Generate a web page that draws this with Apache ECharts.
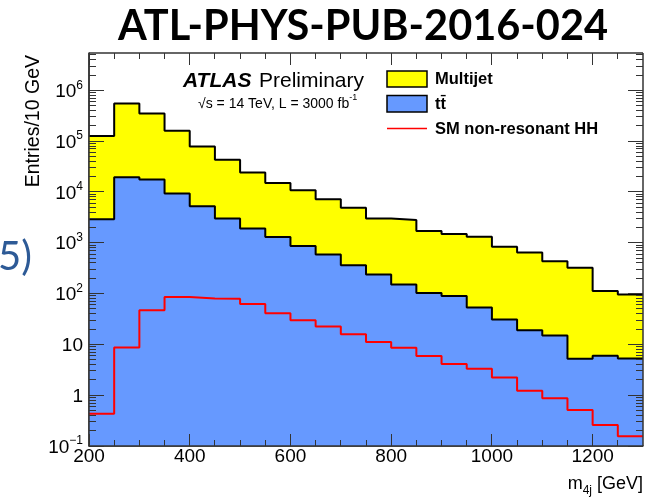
<!DOCTYPE html>
<html><head><meta charset="utf-8">
<script src="https://cdn.jsdelivr.net/npm/echarts@6/dist/echarts.min.js"></script>
<style>html,body{margin:0;padding:0;background:#fff}#c{width:646px;height:499px}</style>
</head><body><div id="c"></div>
<script>
// ---- data ----
const binEdges = [200,250,300,350,400,450,500,550,600,650,700,750,800,850,900,950,1000,1050,1100,1150,1200,1250,1300];
const multijet = [123000,530000,332000,151000,72800,40000,22100,13700,9940,6610,4540,2760,2650,1590,1390,1260,799,625,419,316,106,91];
const ttbar = [2900,19500,17500,9300,5200,3000,1900,1300,860,590,360,238,151,103,90,53,31,19,15,5.2,6.0,5.3];
const hhSignal = [0.43,8.7,47,86,80,79,62,41,30,22.6,15.9,11.1,8.6,5.9,4.1,3.3,2.24,1.22,0.87,0.51,0.26,0.155];
const xMajorTicks = [200,400,600,800,1000,1200];
const xMinorTicks = [250,300,350,450,500,550,650,700,750,850,900,950,1050,1100,1150,1250];
const yMajorTicks = [0.1,1,10,100,1000,10000,100000,1000000];
const Y_MIN = 0.1, Y_MAX = 5.42e6, X_MIN = 200, X_MAX = 1300;
const yMinorTicks = [];
for (let d = -1; d <= 6; d++) for (let k = 2; k <= 9; k++) { const v = k * Math.pow(10, d); if (v < Y_MAX) yMinorTicks.push(+v.toPrecision(3)); }

function histPoints(vals) {
  const pts = vals.map((v, i) => [binEdges[i], v]);
  pts.push([binEdges[binEdges.length - 1], vals[vals.length - 1]]);
  return pts;
}
const total = multijet.map((v, i) => v + ttbar[i]);

const FONT = 'Liberation Sans';
const TICK_COLOR = '#333';
const axisLineStyle = {color: '#333', width: 1.5};
function yLabel(v) {
  const e = Math.round(Math.log10(v));
  if (e === 0) return '{b|1}';
  if (e === 1) return '{b|10}';
  return '{b|10}{s|' + (e < 0 ? '\u2212' + (-e) : e) + '}';
}
const yRich = {b: {fontSize: 19, fontFamily: FONT, color: '#000', lineHeight: 22, verticalAlign: 'bottom'},
               s: {fontSize: 12, fontFamily: FONT, color: '#000', lineHeight: 22, verticalAlign: 'top'}};

const textGraphics = [
  {type: 'text', x: 363, y: 27, style: {text: 'ATL-PHYS-PUB-2016-024', fontFamily: 'Lato', fontWeight: 'bold', fontSize: 41.5, fill: '#000', align: 'center', verticalAlign: 'middle'}},
  {type: 'text', x: -2, y: 257, style: {text: '5)', fontFamily: 'Lato', fontSize: 40, fill: '#2d5a96', align: 'left', verticalAlign: 'middle'}},
  {type: 'text', x: 34, y: 55, rotation: Math.PI / 2, style: {text: 'Entries/10 GeV', fontFamily: FONT, fontSize: 19.5, fill: '#000', align: 'right', verticalAlign: 'middle'}},
  {type: 'text', x: 643, y: 486, style: {text: '{a|m}{b|4j}{a| [GeV]}', align: 'right', verticalAlign: 'middle',
    rich: {a: {fontFamily: FONT, fontSize: 18, fill: '#000', lineHeight: 22, verticalAlign: 'top'}, b: {fontFamily: FONT, fontSize: 12, fill: '#000', lineHeight: 22, verticalAlign: 'bottom'}}}},
  {type: 'text', x: 183, y: 81, style: {text: 'ATLAS', fontFamily: FONT, fontWeight: 'bold', fontStyle: 'italic', fontSize: 21, fill: '#000', align: 'left', verticalAlign: 'middle'}},
  {type: 'text', x: 259, y: 81, style: {text: 'Preliminary', fontFamily: FONT, fontSize: 21, fill: '#000', align: 'left', verticalAlign: 'middle'}},
  {type: 'text', x: 198, y: 102, style: {text: '{a|\u221As = 14 TeV, L = 3000 fb}{s|-1}', align: 'left', verticalAlign: 'middle',
    rich: {a: {fontFamily: FONT, fontSize: 14, fill: '#000', lineHeight: 18, verticalAlign: 'bottom'}, s: {fontFamily: FONT, fontSize: 9, fill: '#000', lineHeight: 18, verticalAlign: 'top'}}}},
  {type: 'rect', shape: {x: 387, y: 71, width: 40, height: 16}, style: {fill: '#ffff00', stroke: '#000', lineWidth: 1.5}},
  {type: 'rect', shape: {x: 387, y: 95.5, width: 40, height: 16.5}, style: {fill: '#6699ff', stroke: '#000', lineWidth: 1.5}},
  {type: 'line', shape: {x1: 387, y1: 128.5, x2: 427, y2: 128.5}, style: {stroke: '#ff0000', lineWidth: 1.5}},
  {type: 'text', x: 435, y: 79, style: {text: 'Multijet', fontFamily: FONT, fontWeight: 'bold', fontSize: 16.5, fill: '#000', align: 'left', verticalAlign: 'middle'}},
  {type: 'text', x: 435, y: 104, style: {text: 'tt\u0304', fontFamily: FONT, fontWeight: 'bold', fontSize: 16.5, fill: '#000', align: 'left', verticalAlign: 'middle'}},
  {type: 'text', x: 435, y: 129, style: {text: 'SM non-resonant HH', fontFamily: FONT, fontWeight: 'bold', fontSize: 16.5, fill: '#000', align: 'left', verticalAlign: 'middle'}},
  {type: 'text', x: 269, y: 378, style: {text: '{a|m}{b|4j}', align: 'left', verticalAlign: 'middle',
    rich: {a: {fontFamily: 'Lato', fontWeight: 'bold', fontSize: 64, fill: '#000', lineHeight: 70, verticalAlign: 'top'},
           b: {fontFamily: 'Lato', fontWeight: 'bold', fontSize: 38, fill: '#000', lineHeight: 70, verticalAlign: 'bottom'}}}}
];

const chart = echarts.init(document.getElementById('c'), null, {renderer: 'canvas'});
chart.setOption({
  animation: false,
  backgroundColor: '#fff',
  grid: {left: 89, right: 3, top: 53, bottom: 53, containLabel: false},
  xAxis: {type: 'value', min: X_MIN, max: X_MAX, position: 'bottom',
    axisLine: {show: true, onZero: false, lineStyle: axisLineStyle},
    axisTick: {show: false}, splitLine: {show: false},
    axisLabel: {show: true, customValues: xMajorTicks, formatter: v => String(v), fontSize: 19, fontFamily: FONT, color: '#000', margin: 1}},
  yAxis: {type: 'log', logBase: 10, min: Y_MIN, max: Y_MAX, position: 'left',
    axisLine: {show: true, lineStyle: axisLineStyle},
    axisTick: {show: false}, minorTick: {show: false}, splitLine: {show: false},
    axisLabel: {show: true, customValues: yMajorTicks, formatter: yLabel, rich: yRich, margin: 6}},
  series: [
    {name: 'Multijet', type: 'line', step: 'end', data: histPoints(total), symbol: 'none', z: 1,
     lineStyle: {color: '#000', width: 2}, areaStyle: {color: '#ffff00', opacity: 1}},
    {name: 'tt\u0304', type: 'line', step: 'end', data: histPoints(ttbar), symbol: 'none', z: 2,
     lineStyle: {color: '#000', width: 2}, areaStyle: {color: '#6699ff', opacity: 1}},
    {name: 'SM non-resonant HH', type: 'line', step: 'end', data: histPoints(hhSignal), symbol: 'none', z: 3,
     lineStyle: {color: '#ff0000', width: 2}}
  ],
  graphic: textGraphics
});

// frame and axis ticks placed through the chart's own scales (convertToPixel)
const finder = {xAxisIndex: 0, yAxisIndex: 0};
function px(x, y) { return chart.convertToPixel(finder, [x, y]); }
function crisp(v) { return Math.round(v - 0.5) + 0.5; }
function seg(x1, y1, x2, y2, w) { return {type: 'line', z: 100, silent: true, shape: {x1: x1, y1: y1, x2: x2, y2: y2}, style: {stroke: TICK_COLOR, lineWidth: w || 1}}; }
const tickGraphics = [];
try {
  const bl = px(X_MIN, Y_MIN), tr = px(X_MAX, Y_MAX);
  tickGraphics.push(seg(bl[0], tr[1], tr[0], tr[1], 1.5), seg(tr[0], tr[1], tr[0], bl[1], 1.5),
                    seg(bl[0], bl[1], bl[0], tr[1], 1.5), seg(bl[0], bl[1], tr[0], bl[1], 1.5));
  const addY = (vals, len) => vals.forEach(v => {
    const y = crisp(px(X_MIN, v)[1]);
    tickGraphics.push(seg(bl[0], y, bl[0] + len, y), seg(tr[0] - len, y, tr[0], y));
  });
  const addX = (vals, len) => vals.forEach(v => {
    const x = crisp(px(v, Y_MIN)[0]);
    tickGraphics.push(seg(x, bl[1], x, bl[1] - len), seg(x, tr[1], x, tr[1] + len));
  });
  addY(yMajorTicks, 15); addY(yMinorTicks, 7);
  addX(xMajorTicks, 12); addX(xMinorTicks, 6);
} catch (e) { console.error(e); }
chart.setOption({graphic: textGraphics.concat(tickGraphics)});
</script></body></html>
